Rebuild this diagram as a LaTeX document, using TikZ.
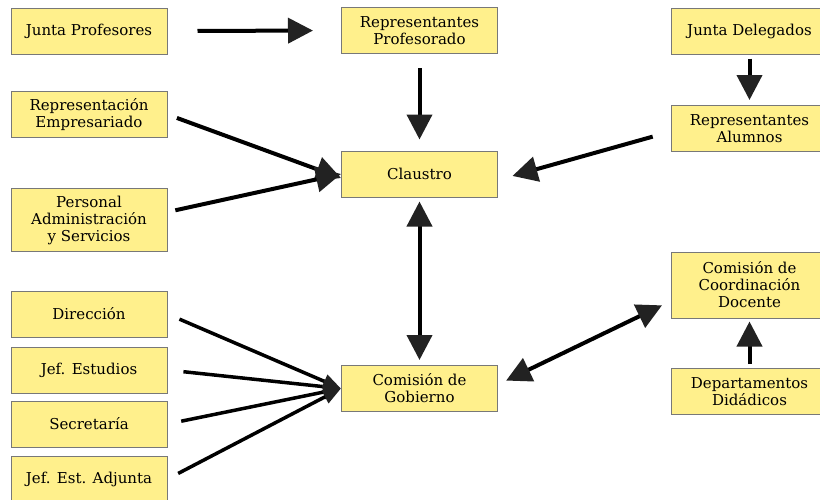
\documentclass[tikz,border=0pt]{standalone}
\usepackage{fontspec}
\setmainfont{DejaVu Serif}
\usetikzlibrary{arrows.meta}

\definecolor{boxfill}{RGB}{255,240,140}
\definecolor{boxline}{RGB}{120,120,120}
\definecolor{tipcol}{RGB}{34,34,34}

\tikzstyle{block} = [rectangle, draw=boxline, fill=boxfill, line width=1pt, minimum width=156pt, minimum height=46pt, inner sep=0pt, align=center, font=\fontsize{15}{17}\selectfont]
\tikzstyle{link} = [line width=4pt, -{Triangle[length=25pt, width=25pt, color=tipcol]}]
\tikzstyle{both} = [line width=4pt, {Triangle[length=25pt, width=25pt, color=tipcol]}-{Triangle[length=25pt, width=25pt, color=tipcol]}]
\tikzstyle{fan} = [line width=3.5pt, -{Triangle[length=18pt, width=14pt, color=tipcol]}]

\begin{document}
\begin{tikzpicture}[x=1pt, y=-1pt]
        \useasboundingbox (0,0) rectangle (820,499);
        \clip (0,0) rectangle (820,499);
        % left column
        \node (jp) at (89,31) [block] {Junta Profesores};
        \node (re) at (89,114.5) [block] {Representación\\Empresariado};
        \node (pas) at (89,220) [block, minimum height=63pt] {Personal\\Administración\\y Servicios};
        \node (dir) at (89,314) [block] {Dirección};
        \node (je) at (89,370) [block] {Jef. Estudios};
        \node (sec) at (89,424) [block] {Secretaría};
        \node (jea) at (89,479) [block] {Jef. Est. Adjunta};
        % middle column
        \node (rp) at (419.5,30.5) [block] {Representantes\\Profesorado};
        \node (cl) at (419.5,174) [block] {Claustro};
        \node (cg) at (419.5,388.5) [block] {Comisión de\\Gobierno};
        % right column
        \node (jd) at (749.5,31) [block] {Junta Delegados};
        \node (ra) at (749.5,128.5) [block] {Representantes\\Alumnos};
        \node (ccd) at (749.5,285) [block, minimum height=66pt] {Comisión de\\Coordinación\\Docente};
        \node (dd) at (749.5,391.5) [block] {Departamentos\\Didádicos};
        % arrows
        \draw [link, shorten <=30pt, shorten >=28pt] (jp.east) -- (rp.west);
        \draw [link, shorten <=14pt, shorten >=11pt] (rp.south) -- (cl.north);
        \draw [link, shorten <=4pt, shorten >=5pt] (jd.south) -- (ra.north);
        \draw [link, shorten <=10pt] (re.east) -- ([yshift=-4pt]cl.west);
        \draw [link, shorten <=8pt] ([yshift=8pt]pas.east) -- (cl.west);
        \draw [link, shorten <=19pt, shorten >=15pt] ([yshift=-3pt]ra.west) -- ([yshift=-6pt]cl.east);
        \draw [both, shorten <=4pt, shorten >=5pt] (cl.south) -- (cg.north);
        \draw [fan, shorten <=13pt] (dir.east) -- (cg.west);
        \draw [fan, shorten <=16pt] (je.east) -- (cg.west);
        \draw [fan, shorten <=14pt] (sec.east) -- (cg.west);
        \draw [fan, shorten <=12pt] (jea.east) -- (cg.west);
        \draw [both, shorten <=9pt, shorten >=10pt] ([yshift=4pt]cg.east) -- ([yshift=-16pt]ccd.west);
        \draw [link, shorten <=4pt, shorten >=3pt] (dd.north) -- (ccd.south);
    \end{tikzpicture}
\end{document}
